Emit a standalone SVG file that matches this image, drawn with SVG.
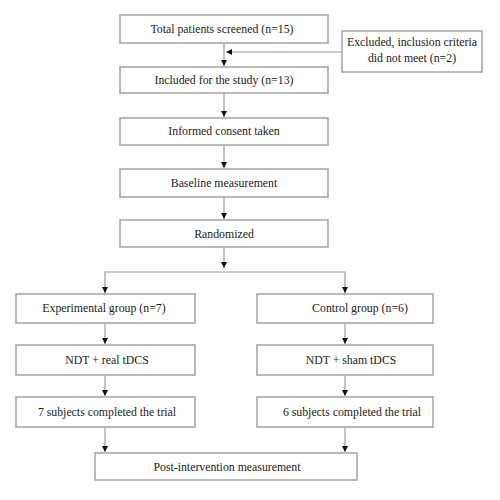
<svg xmlns="http://www.w3.org/2000/svg" width="500" height="500" viewBox="0 0 500 500">
<style>
.box{fill:#fff;stroke:#a8a8a8;stroke-width:1.6}
.t{font-family:"Liberation Serif","Times New Roman",serif;font-size:11.8px;fill:#222;text-anchor:middle}
.ln{fill:none;stroke:#999;stroke-width:1.2}
</style>
<defs>
<marker id="ah" viewBox="0 0 10 10" refX="10" refY="5" markerWidth="6" markerHeight="6" orient="auto" markerUnits="userSpaceOnUse">
<path d="M0,0 L10,5 L0,10 z" fill="#111"/>
</marker>
</defs>
<rect width="500" height="500" fill="#fff"/>
<g id="connectors">
<path class="ln" d="M224,43 V66" marker-end="url(#ah)"/>
<path class="ln" d="M342,52 H226" marker-end="url(#ah)"/>
<path class="ln" d="M224,93 V117" marker-end="url(#ah)"/>
<path class="ln" d="M224,145 V168" marker-end="url(#ah)"/>
<path class="ln" d="M224,197 V219" marker-end="url(#ah)"/>
<path class="ln" d="M224,247 V268"/>
<path class="ln" d="M224,262 V268" marker-end="url(#ah)"/>
<path class="ln" d="M105,293 V272 H345 V293"/>
<path class="ln" d="M105,286 V293" marker-end="url(#ah)"/>
<path class="ln" d="M345,286 V293" marker-end="url(#ah)"/>
<path class="ln" d="M105,323 V344" marker-end="url(#ah)"/>
<path class="ln" d="M345,323 V344" marker-end="url(#ah)"/>
<path class="ln" d="M105,375 V396" marker-end="url(#ah)"/>
<path class="ln" d="M345,375 V396" marker-end="url(#ah)"/>
<path class="ln" d="M105,427 V452" marker-end="url(#ah)"/>
<path class="ln" d="M345,427 V452" marker-end="url(#ah)"/>
</g>
<g id="screened"><rect class="box" x="120" y="15" width="208" height="28"/><text class="t" x="222" y="33">Total patients screened (n=15)</text></g>
<g id="excluded"><rect class="box" x="342" y="31" width="140" height="41"/><text class="t" x="412" y="46">Excluded, inclusion criteria</text><text class="t" x="412" y="62">did not meet (n=2)</text></g>
<g id="included"><rect class="box" x="120" y="67" width="208" height="26"/><text class="t" x="224" y="84">Included for the study (n=13)</text></g>
<g id="consent"><rect class="box" x="120" y="118" width="208" height="27"/><text class="t" x="224" y="135">Informed consent taken</text></g>
<g id="baseline"><rect class="box" x="120" y="169" width="208" height="28"/><text class="t" x="224" y="187">Baseline measurement</text></g>
<g id="randomized"><rect class="box" x="120" y="220" width="208" height="27"/><text class="t" x="224" y="238">Randomized</text></g>
<g id="exp"><rect class="box" x="16" y="294" width="179" height="29"/><text class="t" x="104" y="312">Experimental group (n=7)</text></g>
<g id="ctrl"><rect class="box" x="257" y="294" width="176" height="29"/><text class="t" x="360" y="312">Control group (n=6)</text></g>
<g id="real"><rect class="box" x="16" y="345" width="179" height="30"/><text class="t" x="107" y="364">NDT + real tDCS</text></g>
<g id="sham"><rect class="box" x="257" y="345" width="176" height="30"/><text class="t" x="351" y="364">NDT + sham tDCS</text></g>
<g id="done7"><rect class="box" x="16" y="397" width="179" height="30"/><text class="t" x="107" y="416">7 subjects completed the trial</text></g>
<g id="done6"><rect class="box" x="257" y="397" width="176" height="30"/><text class="t" x="352" y="416">6 subjects completed the trial</text></g>
<g id="post"><rect class="box" x="95" y="453" width="262" height="27"/><text class="t" x="227" y="471">Post-intervention measurement</text></g>
</svg>
